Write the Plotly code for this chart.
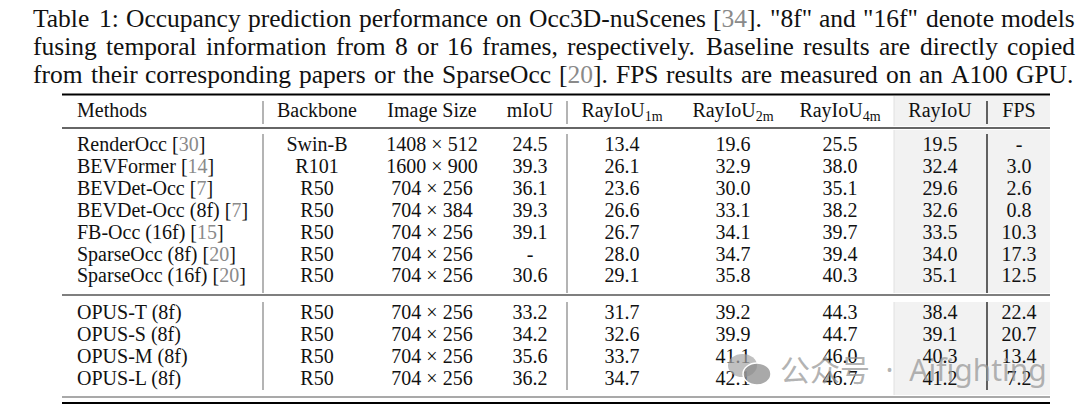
import re
import plotly.graph_objects as go

# ---------------- data ----------------
methods = ["RenderOcc", "BEVFormer", "BEVDet-Occ", "BEVDet-Occ (8f)", "FB-Occ (16f)",
           "SparseOcc (8f)", "SparseOcc (16f)",
           "OPUS-T (8f)", "OPUS-S (8f)", "OPUS-M (8f)", "OPUS-L (8f)"]
citations = [30, 14, 7, 7, 15, 20, 20, None, None, None, None]
backbones = ["Swin-B", "R101", "R50", "R50", "R50", "R50", "R50", "R50", "R50", "R50", "R50"]
img_w = [1408, 1600, 704, 704, 704, 704, 704, 704, 704, 704, 704]
img_h = [512, 900, 256, 384, 256, 256, 256, 256, 256, 256, 256]
miou = [24.5, 39.3, 36.1, 39.3, 39.1, None, 30.6, 33.2, 34.2, 35.6, 36.2]
rayiou_1m = [13.4, 26.1, 23.6, 26.6, 26.7, 28.0, 29.1, 31.7, 32.6, 33.7, 34.7]
rayiou_2m = [19.6, 32.9, 30.0, 33.1, 34.1, 34.7, 35.8, 39.2, 39.9, 41.1, 42.1]
rayiou_4m = [25.5, 38.0, 35.1, 38.2, 39.7, 39.4, 40.3, 44.3, 44.7, 46.0, 46.7]
rayiou = [19.5, 32.4, 29.6, 32.6, 33.5, 34.0, 35.1, 38.4, 39.1, 40.3, 41.2]
fps = [None, 3.0, 2.6, 0.8, 10.3, 17.3, 12.5, 22.4, 20.7, 13.4, 7.2]
group = [0, 0, 0, 0, 0, 0, 0, 1, 1, 1, 1]
headers = ["Methods", "Backbone", "Image Size", "mIoU", "RayIoU<sub>1m</sub>",
           "RayIoU<sub>2m</sub>", "RayIoU<sub>4m</sub>", "RayIoU", "FPS"]
caption_lines = [
    'Table 1: Occupancy prediction performance on Occ3D-nuScenes [34]. "8f" and "16f" denote models',
    'fusing temporal information from 8 or 16 frames, respectively. Baseline results are directly copied',
    'from their corresponding papers or the SparseOcc [20]. FPS results are measured on an A100 GPU.',
]
watermark = "公众号\u00a0 ·\u00a0 Aifighting"

# ---------------- layout constants ----------------
W, H = 1080, 417
SERIF = "Liberation Serif"
FS = 20
CAP_FS = 25.5
COL_X = [77, 317, 432, 530, 622, 733, 840, 940, 1019]
HEADER_Y = 112
ROW0_Y = 146
ROW_STEP = 21.9
GROUP_GAP = 14.7
CITE_COLOR = "#8a8a8a"
CAP_X0 = 33
CAP_X1 = [1075, 1075, 1073]
CAP_Y = [18.7, 46.6, 74.3]

# Times-compatible advance widths (per 1000 em) for caption justification
TIMES_W = {' ': 250, '"': 408, '(': 333, ')': 333, ',': 250, '-': 333, '.': 250, ':': 278,
           '[': 333, ']': 333,
           'A': 722, 'B': 667, 'C': 667, 'D': 722, 'E': 611, 'F': 556, 'G': 722, 'H': 722,
           'I': 333, 'J': 389, 'K': 722, 'L': 611, 'M': 889, 'N': 722, 'O': 722, 'P': 556,
           'Q': 722, 'R': 667, 'S': 556, 'T': 611, 'U': 722, 'V': 722, 'W': 944, 'X': 722,
           'Y': 722, 'Z': 611,
           'a': 444, 'b': 500, 'c': 444, 'd': 500, 'e': 444, 'f': 333, 'g': 500, 'h': 500,
           'i': 278, 'j': 278, 'k': 500, 'l': 278, 'm': 778, 'n': 500, 'o': 500, 'p': 500,
           'q': 500, 'r': 333, 's': 389, 't': 278, 'u': 500, 'v': 500, 'w': 722, 'x': 500,
           'y': 500, 'z': 444}


def text_width(s, size):
    return sum(TIMES_W.get(ch, 500) for ch in s) / 1000.0 * size


def cite_markup(s):
    return re.sub(r'\[(\d+)\]', lambda m: f'[<span style="color:{CITE_COLOR}">{m.group(1)}</span>]', s)


def row_y(i):
    return ROW0_Y + i * ROW_STEP + group[i] * GROUP_GAP


def fmt(v):
    return "-" if v is None else f"{v:.1f}"


def method_label(m, c):
    if c is None:
        return m
    return f'{m} [<span style="color:{CITE_COLOR}">{c}</span>]'


n = len(methods)
ys = [row_y(i) for i in range(n)]

columns = [
    [method_label(m, c) for m, c in zip(methods, citations)],
    backbones,
    [f"{w} × {h}" for w, h in zip(img_w, img_h)],
    [fmt(v) for v in miou],
    [fmt(v) for v in rayiou_1m],
    [fmt(v) for v in rayiou_2m],
    [fmt(v) for v in rayiou_4m],
    [fmt(v) for v in rayiou],
    [fmt(v) for v in fps],
]

fig = go.Figure()

# shaded RayIoU/FPS columns (per block)
SHADE_X0, SHADE_X1 = 894, 1050
blocks = [(96, 126), (130, 293), (302, 395)]
shapes = []
for y0, y1 in blocks:
    shapes.append(dict(type="rect", xref="x", yref="y", x0=SHADE_X0, x1=SHADE_X1, y0=y0, y1=y1,
                       fillcolor="#f2f2f2", line=dict(width=0), layer="below"))
    shapes.append(dict(type="line", xref="x", yref="y", x0=SHADE_X0, x1=SHADE_X0, y0=y0, y1=y1,
                       line=dict(color="#e0e0e0", width=1), layer="below"))

# vertical separators
vseg = [(101, 124), (134, 293), (302, 390)]
for xv, col in [(263, "#8c8c8c"), (567, "#8c8c8c"), (987, "#111111")]:
    for y0, y1 in vseg:
        shapes.append(dict(type="line", xref="x", yref="y", x0=xv, x1=xv, y0=y0, y1=y1,
                           line=dict(color=col, width=1.3)))

# horizontal rules
TX0, TX1 = 62, 1050
for yv, wdt, col in [(94.5, 2.2, "#000000"), (128, 1.3, "#333333"), (295, 1.5, "#555555"),
                     (397, 1.2, "#555555"), (403, 2.0, "#000000")]:
    shapes.append(dict(type="line", xref="x", yref="y", x0=TX0, x1=TX1, y0=yv, y1=yv,
                       line=dict(color=col, width=wdt)))

# header
for j, h in enumerate(headers):
    fig.add_trace(go.Scatter(
        x=[COL_X[j]], y=[HEADER_Y], mode="text", text=[h],
        textposition="middle right" if j == 0 else "middle center",
        textfont=dict(family=SERIF, size=FS, color="#111"),
        hoverinfo="skip", showlegend=False))

# body
for j, vals in enumerate(columns):
    fig.add_trace(go.Scatter(
        x=[COL_X[j]] * n, y=ys, mode="text", text=vals,
        textposition="middle right" if j == 0 else "middle center",
        textfont=dict(family=SERIF, size=FS, color="#111"),
        hoverinfo="skip", showlegend=False))

# justified caption (word by word)
annotations = []
for line, x1, yc in zip(caption_lines, CAP_X1, CAP_Y):
    words = line.split(" ")
    widths = [text_width(w, CAP_FS) for w in words]
    gap = (x1 - CAP_X0 - sum(widths)) / (len(words) - 1)
    xpos = CAP_X0
    for w, wd in zip(words, widths):
        annotations.append(dict(x=xpos, y=yc, xref="x", yref="y", text=cite_markup(w),
                                showarrow=False, xanchor="left", yanchor="middle",
                                borderpad=0, borderwidth=0,
                                font=dict(family=SERIF, size=CAP_FS, color="#111")))
        xpos += wd + gap

# watermark
annotations.append(dict(x=778, y=369, xref="x", yref="y", text=watermark, showarrow=False,
                        xanchor="left", yanchor="middle",
                        font=dict(family="Noto Sans, Noto Sans CJK SC", size=30,
                                  color="rgba(150,150,150,0.72)")))
shapes.append(dict(type="circle", xref="x", yref="y", x0=728, x1=757, y0=354, y1=377,
                   fillcolor="rgba(165,165,165,0.7)", line=dict(width=0)))
shapes.append(dict(type="circle", xref="x", yref="y", x0=743, x1=771, y0=363, y1=385,
                   fillcolor="rgba(140,140,140,0.75)", line=dict(color="white", width=1.5)))

fig.update_layout(
    width=W, height=H, margin=dict(l=0, r=0, t=0, b=0),
    paper_bgcolor="white", plot_bgcolor="white",
    xaxis=dict(range=[0, W], visible=False, fixedrange=True),
    yaxis=dict(range=[H, 0], visible=False, fixedrange=True),
    shapes=shapes, annotations=annotations, showlegend=False,
)

fig.write_html("out.html", config={"displayModeBar": False},
               post_script="document.body.style.margin='0';")
